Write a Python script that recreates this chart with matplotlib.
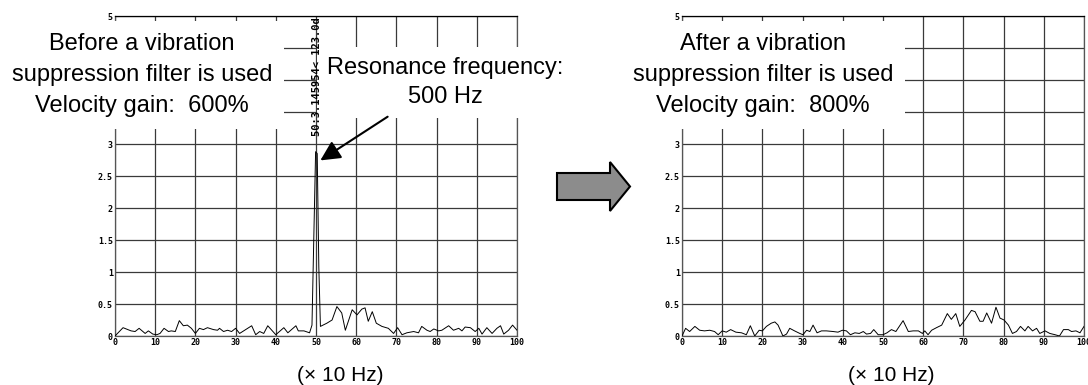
import numpy as np
import matplotlib.pyplot as plt
from matplotlib.patches import FancyArrow

# velocity spectrum before the filter (x in units of 10 Hz)
before_x = [0, 2, 4, 5, 6, 7.5, 8.3, 9.4, 10.4, 11.2, 12.2, 13.3, 14, 15, 16,
            17, 18, 19, 20, 21, 22, 23, 24.5, 25.5, 26, 27, 28, 29, 30, 31,
            32, 33, 34, 35, 36, 37, 38, 39, 40, 42, 43, 45, 45.6, 47, 48.4,
            49, 49.9, 50.3, 50.7, 51.1, 52.7, 54, 55.2, 56.4, 57.3,
            59, 60.2, 61.4, 62.2, 63, 64, 65, 66.4, 68, 69.3,
            70.3, 71.4, 72.6, 74.3, 75.5, 76.3, 77.6, 78.4, 79.3, 80.5,
            81.3, 83, 84.2, 85.5, 86.3, 87.1, 88.4, 89.6, 90.5, 91.3,
            92.5, 93.8, 95, 95.9, 96.7, 97.9, 98.9, 100]
before_y = [0.0, 0.13, 0.08, 0.07, 0.12, 0.04, 0.08, 0.03, 0.02, 0.04, 0.12, 0.07, 0.08, 0.07, 0.24,
            0.16, 0.17, 0.12, 0.04, 0.12, 0.10, 0.13, 0.10, 0.09, 0.12, 0.07, 0.09, 0.07, 0.12, 0.04,
            0.08, 0.12, 0.16, 0.02, 0.07, 0.04, 0.16, 0.09, 0.02, 0.13, 0.05, 0.16, 0.08, 0.08, 0.05,
            0.17, 2.88, 2.85, 1.08, 0.15, 0.20, 0.25, 0.46, 0.36, 0.09,
            0.41, 0.33, 0.42, 0.44, 0.23, 0.38, 0.20, 0.15, 0.12, 0.04,
            0.13, 0.02, 0.05, 0.07, 0.05, 0.15, 0.09, 0.07, 0.11, 0.08,
            0.09, 0.16, 0.09, 0.12, 0.08, 0.14, 0.13, 0.07, 0.12, 0.03,
            0.13, 0.04, 0.12, 0.16, 0.03, 0.09, 0.17, 0.09]

# velocity spectrum after the filter
after_x = [0, 0.9, 1.9, 3.2, 4.4, 5.6, 6.9, 8.1, 9, 10, 11, 12.1, 13.4, 14.8, 16,
           17, 18.1, 19.2, 20, 21, 22.2, 23.1, 23.9, 25.1, 26, 26.8, 28, 29.3, 30.1, 31,
           31.8, 32.6, 33.6, 34.7, 35.9, 37.6, 38.8, 39.9, 40.9, 41.9, 43, 44.1, 45.1, 45.9, 46.9,
           47.7, 48.8, 50, 51, 52.1, 53.2, 55, 56.3, 57.5, 58.8,
           59.8, 60.4, 61.2, 62.1, 63.3, 64.6, 66, 67, 68.1, 69.1,
           70.4, 72, 72.9, 74.1, 74.9, 75.8, 77, 78.1, 79.1, 80.1,
           81.2, 82.2, 83.2, 84.2, 85.3, 86.1, 87.2, 88.2, 89, 90.3,
           91.5, 92.8, 93.9, 94.9, 96.1, 96.9, 98, 99, 100]
after_y = [0.0, 0.12, 0.07, 0.15, 0.09, 0.08, 0.09, 0.07, 0.02, 0.08, 0.06, 0.10, 0.06, 0.05, 0.02,
           0.16, 0.0, 0.09, 0.08, 0.15, 0.20, 0.22, 0.17, 0.0, 0.03, 0.12, 0.08, 0.04, 0.02, 0.09,
           0.07, 0.17, 0.05, 0.08, 0.08, 0.07, 0.06, 0.09, 0.08, 0.02, 0.05, 0.04, 0.07, 0.03, 0.04,
           0.10, 0.02, 0.02, 0.05, 0.10, 0.07, 0.24, 0.07, 0.08, 0.08,
           0.04, 0.08, 0.02, 0.09, 0.13, 0.17, 0.35, 0.26, 0.35, 0.15,
           0.25, 0.40, 0.38, 0.23, 0.23, 0.36, 0.20, 0.45, 0.28, 0.25,
           0.17, 0.04, 0.07, 0.15, 0.08, 0.15, 0.08, 0.12, 0.04, 0.08,
           0.04, 0.02, 0.0, 0.10, 0.10, 0.07, 0.08, 0.05, 0.15]

x_ticks = [0, 10, 20, 30, 40, 50, 60, 70, 80, 90, 100]
x_labels = ["0", "10", "20", "30", "40", "50", "60", "70", "80", "90", "100"]
y_ticks = [0, 0.5, 1, 1.5, 2, 2.5, 3, 3.5, 4, 4.5, 5]
# labels 3.5 - 4.5 sit under the text boxes in the original
y_labels = ["0", "0.5", "1", "1.5", "2", "2.5", "3", "", "", "", "5"]

text_before = "Before a vibration\nsuppression filter is used\nVelocity gain:  600%"
text_after = "After a vibration\nsuppression filter is used\nVelocity gain:  800%"
text_res = "Resonance frequency:\n500 Hz"
text_cursor = "50:3.145954< 123.0d"

plt.rcParams['font.family'] = ['Liberation Sans', 'DejaVu Sans']

fig = plt.figure(figsize=(10.88, 3.85), dpi=100)
ax1 = fig.add_axes([115 / 1088, 49 / 385, 402 / 1088, 320 / 385])
ax2 = fig.add_axes([682 / 1088, 49 / 385, 402 / 1088, 320 / 385])

tick_font = dict(family='DejaVu Sans Mono', weight='bold', size=6)


def setup(ax, fx, fy, lab_x):
    ax.plot(fx, fy, color='black', lw=0.7, zorder=3)
    ax.set_xlim(0, 100)
    ax.set_ylim(0, 5)
    ax.set_xticks(x_ticks)
    ax.set_xticklabels(x_labels, fontdict=tick_font)
    ax.set_yticks(y_ticks)
    ax.set_yticklabels(y_labels, fontdict=tick_font)
    ax.tick_params(length=0, pad=1.5)
    ax.grid(True, color='#3a3a3a', lw=0.9)
    for s in ax.spines.values():
        s.set_color('#555555')
        s.set_linewidth(0.9)
    ax.spines['top'].set_color('black')
    ax.spines['top'].set_zorder(6)
    ax.text(lab_x, -0.122, "(\u00d7 10 Hz)", transform=ax.transAxes,
            ha='center', va='center', fontsize=15)


setup(ax1, before_x, before_y, 0.56)
setup(ax2, after_x, after_y, 0.52)

box = dict(boxstyle='square,pad=0.5', fc='white', ec='none')
ax1.text(6.7, 4.08, text_before, ha='center', va='center', fontsize=17,
         linespacing=1.55, bbox=box, zorder=5)
ax2.text(20.1, 4.08, text_after, ha='center', va='center', fontsize=17,
         linespacing=1.55, bbox=box, zorder=5)

# resonance note with arrow
ax1.text(82.1, 3.96, text_res, ha='center', va='center', fontsize=17,
         linespacing=1.45, zorder=5,
         bbox=dict(boxstyle='square,pad=0.4', fc='white', ec='none'))
ax1.annotate('', xy=(50.5, 2.72), xytext=(68.4, 3.45),
             arrowprops=dict(arrowstyle='-|>', mutation_scale=30, lw=1.5, color='black'),
             zorder=6)
ax1.text(50.2, 4.06, text_cursor, rotation=90, ha='center', va='center',
         family='DejaVu Sans Mono', weight='bold', fontsize=7.5, zorder=6)

# big grey arrow between the panels
over = fig.add_axes([0, 0, 1, 1], zorder=-1)
over.set_xlim(0, 1088)
over.set_ylim(385, 0)
over.axis('off')
over.add_patch(FancyArrow(557, 186.5, 73, 0, width=27, head_width=49, head_length=20,
                          length_includes_head=True, fc='#8c8c8c', ec='black', lw=1.5))

fig.savefig('out.png', dpi=100)
